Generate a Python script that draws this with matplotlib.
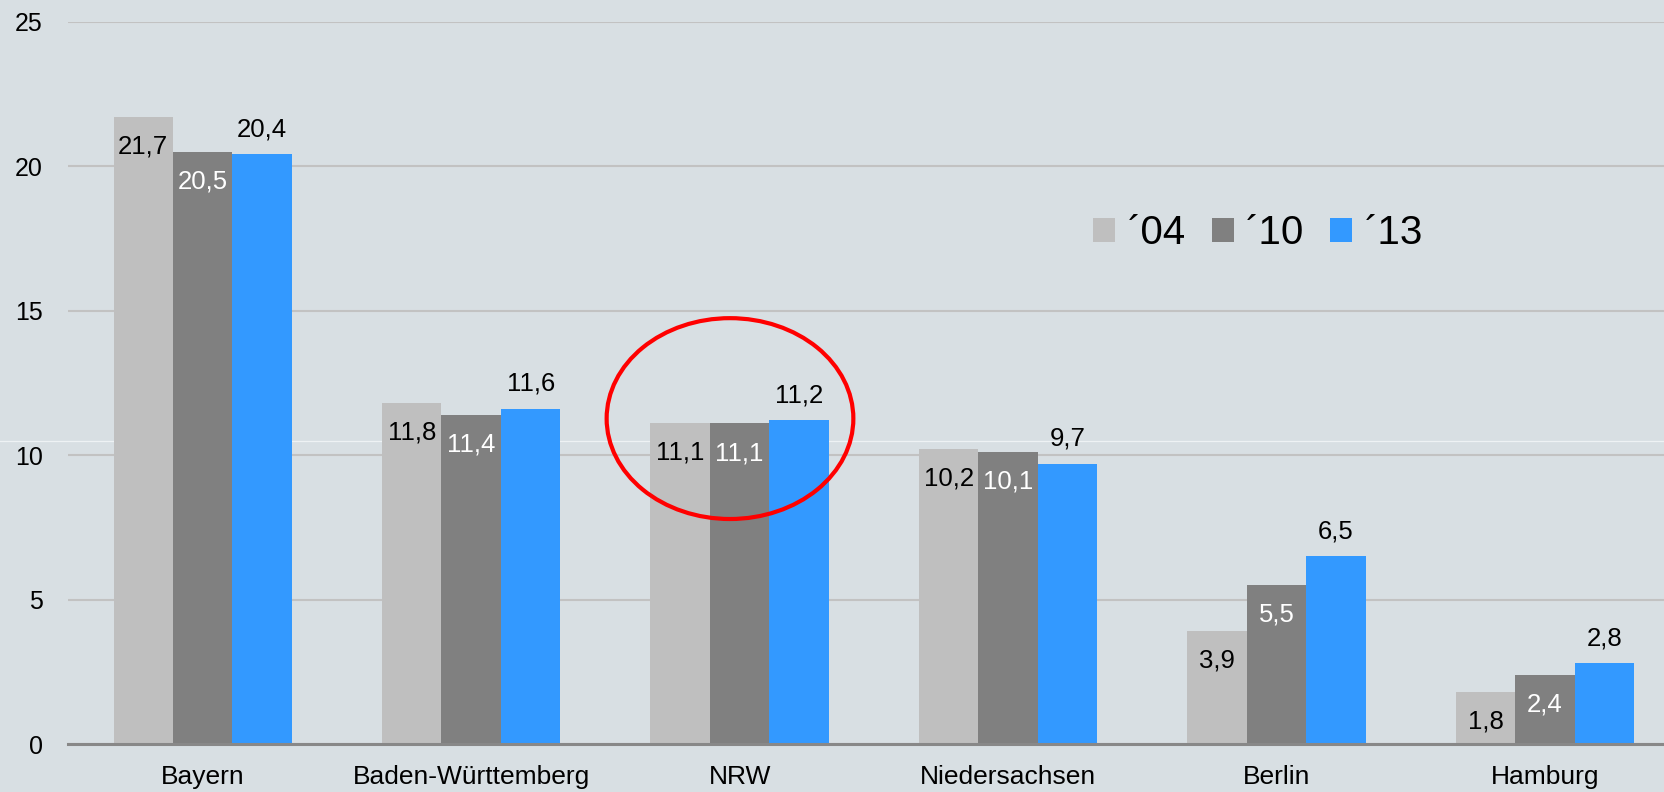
import numpy as np
import matplotlib.pyplot as plt
from matplotlib.patches import Ellipse

plt.rcParams['font.family'] = ['Liberation Sans', 'DejaVu Sans']

# Daten
laender = ['Bayern', 'Baden-Württemberg', 'NRW', 'Niedersachsen', 'Berlin', 'Hamburg']
jahre = ['´04', '´10', '´13']
werte_04 = [21.7, 11.8, 11.1, 10.2, 3.9, 1.8]
werte_10 = [20.5, 11.4, 11.1, 10.1, 5.5, 2.4]
werte_13 = [20.4, 11.6, 11.2, 9.7, 6.5, 2.8]
farben = ['#BFBFBF', '#808080', '#3399FF']
bg = '#D8DFE3'

fig = plt.figure(figsize=(16.65, 7.92), dpi=100, facecolor=bg)
ax = fig.add_axes([68 / 1665, 48 / 792, 1 - 68 / 1665, (744 - 21.5) / 792])
ax.set_facecolor('none')

x = np.arange(len(laender))
w = 0.2215
serien = [werte_04, werte_10, werte_13]
for i, (werte, farbe, jahr) in enumerate(zip(serien, farben, jahre)):
    pos = x + (i - 1) * w
    ax.bar(pos, werte, w, color=farbe, label=jahr, zorder=3)
    for xp, v in zip(pos, werte):
        txt = f'{v:.1f}'.replace('.', ',')
        if i == 0:
            ax.annotate(txt, (xp, v), xytext=(0, -21), textcoords='offset points',
                        ha='center', va='center', fontsize=18.5, color='black', zorder=4)
        elif i == 1:
            ax.annotate(txt, (xp, v), xytext=(0, -21.5), textcoords='offset points',
                        ha='center', va='center', fontsize=18.5, color='white', zorder=4)
        else:
            ax.annotate(txt, (xp, v), xytext=(0, 18), textcoords='offset points',
                        ha='center', va='center', fontsize=18.5, color='black', zorder=4)

ax.set_xlim(-0.502, 5.447)
ax.set_ylim(0, 25)
ax.set_yticks([0, 5, 10, 15, 20, 25])
ax.set_xticks(x)
ax.set_xticklabels(laender, fontsize=19)
ax.tick_params(axis='both', length=0)
ax.tick_params(axis='y', labelsize=18, pad=18)
ax.tick_params(axis='x', pad=15)
ax.yaxis.grid(True, color='#C2C2C2', linewidth=1.5, zorder=0)
for s in ['top', 'right', 'left']:
    ax.spines[s].set_visible(False)
ax.spines['bottom'].set_color('#888888')
ax.spines['bottom'].set_linewidth(2.2)
ax.spines['bottom'].set_zorder(5)

# roter Kreis um NRW
ax.add_patch(Ellipse((1.964, 11.26), 0.919, 6.95, fill=False, edgecolor='#FF0000',
                     linewidth=3, zorder=6, clip_on=False))

# heller Streifen (Artefakt der Vorlage), hinter den Balken
fig.add_artist(plt.Line2D([0, 1], [(792 - 441) / 792] * 2, color='#EEF2F4',
                          linewidth=0.9, transform=fig.transFigure, zorder=-1))

leg = fig.legend(loc='center left', bbox_to_anchor=(1093 / 1665, (792 - 233) / 792),
                 ncol=3, frameon=False, fontsize=29, handlelength=0.55, handleheight=0.55,
                 handletextpad=0.3, columnspacing=0.65, borderpad=0, borderaxespad=0)

fig.savefig('out.png', dpi=100, facecolor=bg)
